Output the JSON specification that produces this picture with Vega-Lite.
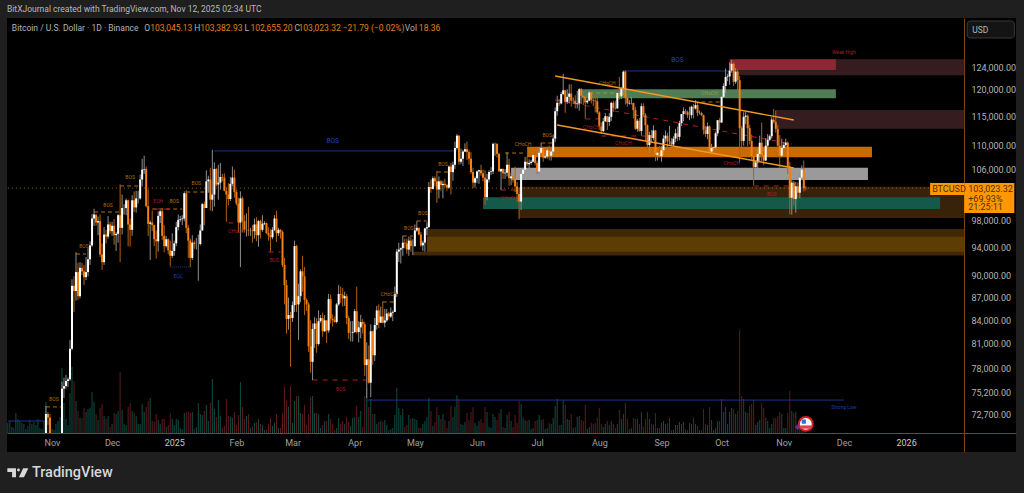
{"$schema":"https://vega.github.io/schema/vega-lite/v6.json","width":1009,"height":434,"autosize":"none","padding":{"left":7,"top":18,"right":8,"bottom":41},"background":"#1f1f1f","config":{"view":{"fill":"#000000","stroke":null},"font":"Roboto"},
"title":{"text":"BitXJournal created with TradingView.com, Nov 12, 2025 02:34 UTC","anchor":"start","frame":"group","offset":5,"fontSize":8.5,"fontWeight":"normal","color":"#b8b8b8"},
"datasets":{
"candles":[
{"d":"2024-10-10","v":10},{"d":"2024-10-11","v":12},{"d":"2024-10-12","v":6},{"d":"2024-10-13","v":5},{"d":"2024-10-14","v":20},{"d":"2024-10-15","v":14},{"d":"2024-10-16","v":12},{"d":"2024-10-17","v":10},{"d":"2024-10-18","v":9},{"d":"2024-10-19","v":4},{"d":"2024-10-20","v":7},{"d":"2024-10-21","v":13},{"d":"2024-10-22","v":9},{"d":"2024-10-23","v":11},{"d":"2024-10-24","v":8},{"d":"2024-10-25","v":14},{"d":"2024-10-26","v":5},{"d":"2024-10-27","v":4},{"d":"2024-10-28","v":12},
{"d":"2024-10-29","o":70600,"h":73600,"l":70600,"c":72700,"v":31},{"d":"2024-10-30","o":72700,"h":72900,"l":71500,"c":72300,"v":12},{"d":"2024-10-31","o":72300,"h":72700,"l":70600,"c":70600,"v":14},{"d":"2024-11-01","v":4},{"d":"2024-11-02","v":3},{"d":"2024-11-03","v":9},{"d":"2024-11-04","v":12},{"d":"2024-11-05","v":16},
{"d":"2024-11-06","o":70600,"h":76400,"l":70600,"c":75600,"v":65},{"d":"2024-11-07","o":75600,"h":76900,"l":74500,"c":75900,"v":30},{"d":"2024-11-08","o":75900,"h":77200,"l":75600,"c":76500,"v":14},{"d":"2024-11-09","o":76500,"h":76900,"l":75800,"c":76700,"v":8},{"d":"2024-11-10","o":76700,"h":81500,"l":76500,"c":80400,"v":40},{"d":"2024-11-11","o":80400,"h":89500,"l":80200,"c":88600,"v":66},{"d":"2024-11-12","o":88600,"h":89900,"l":85100,"c":87900,"v":52},{"d":"2024-11-13","o":87900,"h":93300,"l":86600,"c":90500,"v":32},{"d":"2024-11-14","o":90500,"h":91800,"l":86700,"c":87200,"v":22},{"d":"2024-11-15","o":87200,"h":91900,"l":86900,"c":91100,"v":15},{"d":"2024-11-16","o":91100,"h":91800,"l":90100,"c":90600,"v":15},{"d":"2024-11-17","o":90600,"h":91500,"l":88700,"c":89800,"v":25},{"d":"2024-11-18","o":89800,"h":92600,"l":89400,"c":90500,"v":21},{"d":"2024-11-19","o":90500,"h":93900,"l":89900,"c":92300,"v":24},{"d":"2024-11-20","o":92300,"h":94900,"l":91500,"c":94300,"v":25},{"d":"2024-11-21","o":94300,"h":99000,"l":94100,"c":98300,"v":41},{"d":"2024-11-22","o":98300,"h":99800,"l":97200,"c":98900,"v":31},{"d":"2024-11-23","o":98900,"h":98900,"l":97200,"c":97700,"v":19},{"d":"2024-11-24","o":97700,"h":98600,"l":95800,"c":97900,"v":13},{"d":"2024-11-25","o":97900,"h":98900,"l":92600,"c":93000,"v":25},{"d":"2024-11-26","o":93000,"h":94600,"l":90800,"c":91900,"v":29},{"d":"2024-11-27","o":91900,"h":97000,"l":91500,"c":95900,"v":17},{"d":"2024-11-28","o":95900,"h":96600,"l":94600,"c":95600,"v":14},{"d":"2024-11-29","o":95600,"h":98700,"l":95300,"c":97400,"v":17},{"d":"2024-11-30","o":97400,"h":97800,"l":96000,"c":96400,"v":6},
{"d":"2024-12-01","o":96400,"h":97800,"l":95700,"c":97200,"v":9},{"d":"2024-12-02","o":97200,"h":98200,"l":94400,"c":95800,"v":20},{"d":"2024-12-03","o":95800,"h":96300,"l":93500,"c":96000,"v":19},{"d":"2024-12-04","o":96000,"h":99000,"l":94700,"c":98800,"v":22},{"d":"2024-12-05","o":98800,"h":103600,"l":91900,"c":96900,"v":61},{"d":"2024-12-06","o":96900,"h":102000,"l":95900,"c":99900,"v":23},{"d":"2024-12-07","o":99900,"h":100500,"l":98900,"c":99900,"v":9},{"d":"2024-12-08","o":99900,"h":101400,"l":98800,"c":101100,"v":8},{"d":"2024-12-09","o":101100,"h":101200,"l":94200,"c":97400,"v":26},{"d":"2024-12-10","o":97400,"h":98300,"l":94100,"c":96600,"v":30},{"d":"2024-12-11","o":96600,"h":101900,"l":95700,"c":101100,"v":22},{"d":"2024-12-12","o":101100,"h":102500,"l":99300,"c":100000,"v":20},{"d":"2024-12-13","o":100000,"h":102600,"l":99200,"c":101400,"v":17},{"d":"2024-12-14","o":101400,"h":102600,"l":100600,"c":101400,"v":9},{"d":"2024-12-15","o":101400,"h":105200,"l":101200,"c":104400,"v":9},{"d":"2024-12-16","o":104400,"h":107800,"l":103300,"c":106000,"v":29},{"d":"2024-12-17","o":106000,"h":108300,"l":105300,"c":106100,"v":21},{"d":"2024-12-18","o":106100,"h":106500,"l":100000,"c":100200,"v":26},{"d":"2024-12-19","o":100200,"h":102800,"l":95700,"c":97500,"v":32},{"d":"2024-12-20","o":97500,"h":98000,"l":92200,"c":97700,"v":35},{"d":"2024-12-21","o":97700,"h":99500,"l":96400,"c":97300,"v":12},{"d":"2024-12-22","o":97300,"h":97400,"l":94200,"c":95200,"v":11},{"d":"2024-12-23","o":95200,"h":96500,"l":92400,"c":94900,"v":19},{"d":"2024-12-24","o":94900,"h":99400,"l":93400,"c":98700,"v":13},{"d":"2024-12-25","o":98700,"h":99600,"l":97600,"c":99400,"v":9},{"d":"2024-12-26","o":99400,"h":99900,"l":95100,"c":95700,"v":14},{"d":"2024-12-27","o":95700,"h":97300,"l":93300,"c":94200,"v":14},{"d":"2024-12-28","o":94200,"h":95700,"l":94000,"c":95200,"v":6},{"d":"2024-12-29","o":95200,"h":95300,"l":93000,"c":93600,"v":8},{"d":"2024-12-30","o":93600,"h":95000,"l":91300,"c":92800,"v":20},{"d":"2024-12-31","o":92800,"h":96100,"l":92500,"c":93500,"v":14},
{"d":"2025-01-01","o":93500,"h":95000,"l":92800,"c":94600,"v":8},{"d":"2025-01-02","o":94600,"h":97800,"l":94200,"c":97000,"v":14},{"d":"2025-01-03","o":97000,"h":98900,"l":96500,"c":98100,"v":13},{"d":"2025-01-04","o":98100,"h":98700,"l":97800,"c":98200,"v":5},{"d":"2025-01-05","o":98200,"h":98800,"l":97300,"c":98300,"v":4},{"d":"2025-01-06","o":98300,"h":102500,"l":97900,"c":102200,"v":20},{"d":"2025-01-07","o":102200,"h":102700,"l":96100,"c":96900,"v":21},{"d":"2025-01-08","o":96900,"h":97300,"l":92500,"c":95000,"v":21},{"d":"2025-01-09","o":95000,"h":95300,"l":91200,"c":92500,"v":20},{"d":"2025-01-10","o":92500,"h":95800,"l":92200,"c":94700,"v":21},{"d":"2025-01-11","o":94700,"h":95000,"l":93800,"c":94500,"v":4},{"d":"2025-01-12","o":94500,"h":95400,"l":93700,"c":94500,"v":6},{"d":"2025-01-13","o":94500,"h":95900,"l":89300,"c":94500,"v":30},{"d":"2025-01-14","o":94500,"h":97400,"l":94300,"c":96500,"v":19},{"d":"2025-01-15","o":96500,"h":100700,"l":96500,"c":100500,"v":18},{"d":"2025-01-16","o":100500,"h":100900,"l":97300,"c":99900,"v":22},{"d":"2025-01-17","o":99900,"h":105900,"l":99900,"c":104100,"v":28},{"d":"2025-01-18","o":104100,"h":105000,"l":102300,"c":104400,"v":12},{"d":"2025-01-19","o":104400,"h":106300,"l":99500,"c":101200,"v":30},{"d":"2025-01-20","o":101200,"h":109300,"l":99400,"c":102000,"v":54},{"d":"2025-01-21","o":102000,"h":107200,"l":100100,"c":106100,"v":24},{"d":"2025-01-22","o":106100,"h":106300,"l":103300,"c":103600,"v":16},{"d":"2025-01-23","o":103600,"h":106800,"l":101200,"c":103900,"v":33},{"d":"2025-01-24","o":103900,"h":107100,"l":102800,"c":104800,"v":17},{"d":"2025-01-25","o":104800,"h":105300,"l":104100,"c":104700,"v":5},{"d":"2025-01-26","o":104700,"h":105400,"l":102500,"c":102600,"v":7},{"d":"2025-01-27","o":102600,"h":103200,"l":97800,"c":102000,"v":34},{"d":"2025-01-28","o":102000,"h":103800,"l":100300,"c":101300,"v":17},{"d":"2025-01-29","o":101300,"h":104800,"l":101000,"c":103700,"v":16},{"d":"2025-01-30","o":103700,"h":106500,"l":103300,"c":104700,"v":15},{"d":"2025-01-31","o":104700,"h":106000,"l":101500,"c":102400,"v":21},
{"d":"2025-02-01","o":102400,"h":102800,"l":100300,"c":100600,"v":8},{"d":"2025-02-02","o":100600,"h":101500,"l":96200,"c":97700,"v":18},{"d":"2025-02-03","o":97700,"h":102500,"l":91200,"c":101400,"v":51},{"d":"2025-02-04","o":101400,"h":101700,"l":96200,"c":97900,"v":26},{"d":"2025-02-05","o":97900,"h":98800,"l":96200,"c":96600,"v":14},{"d":"2025-02-06","o":96600,"h":99100,"l":95600,"c":96600,"v":17},{"d":"2025-02-07","o":96600,"h":100100,"l":95700,"c":96500,"v":19},{"d":"2025-02-08","o":96500,"h":96900,"l":95700,"c":96500,"v":5},{"d":"2025-02-09","o":96500,"h":97300,"l":94700,"c":96400,"v":7},{"d":"2025-02-10","o":96400,"h":98300,"l":95300,"c":97400,"v":10},{"d":"2025-02-11","o":97400,"h":98500,"l":94900,"c":95800,"v":11},{"d":"2025-02-12","o":95800,"h":98100,"l":94100,"c":97900,"v":14},{"d":"2025-02-13","o":97900,"h":98100,"l":95300,"c":96600,"v":9},{"d":"2025-02-14","o":96600,"h":98800,"l":96300,"c":97500,"v":8},{"d":"2025-02-15","o":97500,"h":97900,"l":97300,"c":97600,"v":3},{"d":"2025-02-16","o":97600,"h":97700,"l":96000,"c":96100,"v":4},{"d":"2025-02-17","o":96100,"h":97000,"l":95000,"c":95800,"v":9},{"d":"2025-02-18","o":95800,"h":96700,"l":93400,"c":95500,"v":15},{"d":"2025-02-19","o":95500,"h":97000,"l":95200,"c":96600,"v":7},{"d":"2025-02-20","o":96600,"h":98800,"l":96400,"c":98300,"v":10},{"d":"2025-02-21","o":98300,"h":99500,"l":94800,"c":96100,"v":19},{"d":"2025-02-22","o":96100,"h":96900,"l":95700,"c":96600,"v":5},{"d":"2025-02-23","o":96600,"h":96700,"l":95300,"c":96300,"v":5},{"d":"2025-02-24","o":96300,"h":96500,"l":91200,"c":91500,"v":20},{"d":"2025-02-25","o":91500,"h":92500,"l":86100,"c":88700,"v":46},{"d":"2025-02-26","o":88700,"h":89400,"l":82300,"c":84200,"v":32},{"d":"2025-02-27","o":84200,"h":87000,"l":82800,"c":84700,"v":26},{"d":"2025-02-28","o":84700,"h":85100,"l":78200,"c":84300,"v":47},
{"d":"2025-03-01","o":84300,"h":86500,"l":83800,"c":86000,"v":10},{"d":"2025-03-02","o":86000,"h":95000,"l":85100,"c":94200,"v":32},{"d":"2025-03-03","o":94200,"h":94400,"l":85100,"c":86100,"v":37},{"d":"2025-03-04","o":86100,"h":88900,"l":81500,"c":87200,"v":37},{"d":"2025-03-05","o":87200,"h":90900,"l":86400,"c":90600,"v":20},{"d":"2025-03-06","o":90600,"h":92800,"l":87800,"c":89900,"v":19},{"d":"2025-03-07","o":89900,"h":91200,"l":84700,"c":86700,"v":28},{"d":"2025-03-08","o":86700,"h":86900,"l":85200,"c":86100,"v":8},{"d":"2025-03-09","o":86100,"h":86400,"l":80000,"c":80700,"v":19},{"d":"2025-03-10","o":80700,"h":84000,"l":77500,"c":78800,"v":36},{"d":"2025-03-11","o":78800,"h":83600,"l":76600,"c":82900,"v":37},{"d":"2025-03-12","o":82900,"h":84400,"l":80500,"c":83600,"v":20},{"d":"2025-03-13","o":83600,"h":84300,"l":79900,"c":81000,"v":20},{"d":"2025-03-14","o":81000,"h":85300,"l":80800,"c":83900,"v":19},{"d":"2025-03-15","o":83900,"h":84700,"l":83700,"c":84300,"v":5},{"d":"2025-03-16","o":84300,"h":85000,"l":81900,"c":82600,"v":8},{"d":"2025-03-17","o":82600,"h":84700,"l":82500,"c":84000,"v":12},{"d":"2025-03-18","o":84000,"h":84000,"l":81100,"c":82700,"v":12},{"d":"2025-03-19","o":82700,"h":87500,"l":82400,"c":86800,"v":19},{"d":"2025-03-20","o":86800,"h":87400,"l":83600,"c":84200,"v":14},{"d":"2025-03-21","o":84200,"h":84800,"l":83200,"c":84000,"v":9},{"d":"2025-03-22","o":84000,"h":84500,"l":83700,"c":83800,"v":3},{"d":"2025-03-23","o":83800,"h":86300,"l":83600,"c":86100,"v":5},{"d":"2025-03-24","o":86100,"h":88700,"l":85900,"c":87500,"v":15},{"d":"2025-03-25","o":87500,"h":88500,"l":86300,"c":87400,"v":9},{"d":"2025-03-26","o":87400,"h":88300,"l":85800,"c":86900,"v":12},{"d":"2025-03-27","o":86900,"h":87800,"l":85900,"c":87200,"v":9},{"d":"2025-03-28","o":87200,"h":87500,"l":83500,"c":84300,"v":16},{"d":"2025-03-29","o":84300,"h":84600,"l":81600,"c":82400,"v":11},{"d":"2025-03-30","o":82400,"h":83900,"l":81300,"c":82400,"v":7},{"d":"2025-03-31","o":82400,"h":83900,"l":81300,"c":82500,"v":15},
{"d":"2025-04-01","o":82500,"h":85500,"l":82400,"c":85200,"v":16},{"d":"2025-04-02","o":85200,"h":88500,"l":82300,"c":82500,"v":27},{"d":"2025-04-03","o":82500,"h":83900,"l":81200,"c":83100,"v":16},{"d":"2025-04-04","o":83100,"h":84700,"l":81700,"c":83800,"v":22},{"d":"2025-04-05","o":83800,"h":84200,"l":82300,"c":83500,"v":6},{"d":"2025-04-06","o":83500,"h":83800,"l":77100,"c":78400,"v":37},{"d":"2025-04-07","o":78400,"h":81200,"l":74500,"c":79100,"v":45},{"d":"2025-04-08","o":79100,"h":80800,"l":76200,"c":76300,"v":26},{"d":"2025-04-09","o":76300,"h":83500,"l":74600,"c":82600,"v":34},{"d":"2025-04-10","o":82600,"h":82700,"l":78400,"c":79600,"v":19},{"d":"2025-04-11","o":79600,"h":84300,"l":78900,"c":83400,"v":19},{"d":"2025-04-12","o":83400,"h":85900,"l":82800,"c":85300,"v":9},{"d":"2025-04-13","o":85300,"h":86100,"l":83000,"c":83700,"v":11},{"d":"2025-04-14","o":83700,"h":85800,"l":83700,"c":84500,"v":12},{"d":"2025-04-15","o":84500,"h":86500,"l":83600,"c":83700,"v":11},{"d":"2025-04-16","o":83700,"h":85500,"l":83100,"c":84000,"v":13},{"d":"2025-04-17","o":84000,"h":85500,"l":83800,"c":84900,"v":8},{"d":"2025-04-18","o":84900,"h":85100,"l":84100,"c":84500,"v":3},{"d":"2025-04-19","o":84500,"h":85700,"l":84300,"c":85000,"v":4},{"d":"2025-04-20","o":85000,"h":85300,"l":83900,"c":85100,"v":5},{"d":"2025-04-21","o":85100,"h":88500,"l":85100,"c":87500,"v":18},{"d":"2025-04-22","o":87500,"h":93800,"l":87100,"c":93400,"v":45},{"d":"2025-04-23","o":93400,"h":94700,"l":91900,"c":93700,"v":25},{"d":"2025-04-24","o":93700,"h":94000,"l":91700,"c":93900,"v":18},{"d":"2025-04-25","o":93900,"h":95700,"l":92800,"c":94700,"v":24},{"d":"2025-04-26","o":94700,"h":95300,"l":93900,"c":94600,"v":6},{"d":"2025-04-27","o":94600,"h":95300,"l":93100,"c":93700,"v":8},{"d":"2025-04-28","o":93700,"h":95600,"l":92800,"c":95000,"v":18},{"d":"2025-04-29","o":95000,"h":95500,"l":93400,"c":94200,"v":14},{"d":"2025-04-30","o":94200,"h":95200,"l":92900,"c":94200,"v":15},
{"d":"2025-05-01","o":94200,"h":97400,"l":94100,"c":96500,"v":14},{"d":"2025-05-02","o":96500,"h":97900,"l":96300,"c":96900,"v":13},{"d":"2025-05-03","o":96900,"h":96900,"l":95800,"c":95900,"v":5},{"d":"2025-05-04","o":95900,"h":96300,"l":94100,"c":94300,"v":5},{"d":"2025-05-05","o":94300,"h":95000,"l":93500,"c":94700,"v":9},{"d":"2025-05-06","o":94700,"h":96900,"l":93400,"c":96800,"v":12},{"d":"2025-05-07","o":96800,"h":97700,"l":95800,"c":97000,"v":16},{"d":"2025-05-08","o":97000,"h":104000,"l":96900,"c":103200,"v":35},{"d":"2025-05-09","o":103200,"h":104400,"l":102300,"c":102900,"v":22},{"d":"2025-05-10","o":102900,"h":104900,"l":102800,"c":104600,"v":7},{"d":"2025-05-11","o":104600,"h":104900,"l":103300,"c":104100,"v":11},{"d":"2025-05-12","o":104100,"h":105800,"l":100700,"c":102800,"v":26},{"d":"2025-05-13","o":102800,"h":104900,"l":101400,"c":104100,"v":18},{"d":"2025-05-14","o":104100,"h":104300,"l":102600,"c":103500,"v":14},{"d":"2025-05-15","o":103500,"h":104200,"l":101400,"c":103700,"v":19},{"d":"2025-05-16","o":103700,"h":104500,"l":103100,"c":103500,"v":13},{"d":"2025-05-17","o":103500,"h":103700,"l":102600,"c":103100,"v":5},{"d":"2025-05-18","o":103100,"h":106700,"l":102900,"c":106500,"v":12},{"d":"2025-05-19","o":106500,"h":107100,"l":102000,"c":105600,"v":27},{"d":"2025-05-20","o":105600,"h":107300,"l":104200,"c":106800,"v":16},{"d":"2025-05-21","o":106800,"h":110700,"l":106100,"c":109600,"v":26},{"d":"2025-05-22","o":109600,"h":112000,"l":109300,"c":111700,"v":38},{"d":"2025-05-23","o":111700,"h":111800,"l":106800,"c":107300,"v":34},{"d":"2025-05-24","o":107300,"h":109500,"l":106900,"c":107800,"v":9},{"d":"2025-05-25","o":107800,"h":109300,"l":106600,"c":109000,"v":8},{"d":"2025-05-26","o":109000,"h":110400,"l":108900,"c":109400,"v":11},{"d":"2025-05-27","o":109400,"h":110700,"l":107600,"c":108900,"v":20},{"d":"2025-05-28","o":108900,"h":109300,"l":106800,"c":107800,"v":13},{"d":"2025-05-29","o":107800,"h":108900,"l":105300,"c":105600,"v":21},{"d":"2025-05-30","o":105600,"h":106300,"l":103000,"c":103900,"v":26},{"d":"2025-05-31","o":103900,"h":104900,"l":103100,"c":104600,"v":10},
{"d":"2025-06-01","o":104600,"h":105900,"l":103800,"c":105700,"v":7},{"d":"2025-06-02","o":105700,"h":105900,"l":103700,"c":105900,"v":12},{"d":"2025-06-03","o":105900,"h":106800,"l":105000,"c":105400,"v":14},{"d":"2025-06-04","o":105400,"h":106000,"l":104100,"c":104700,"v":10},{"d":"2025-06-05","o":104700,"h":105900,"l":100400,"c":101600,"v":26},{"d":"2025-06-06","o":101600,"h":105300,"l":101100,"c":104400,"v":21},{"d":"2025-06-07","o":104400,"h":105900,"l":103900,"c":105600,"v":6},{"d":"2025-06-08","o":105600,"h":106400,"l":105100,"c":105700,"v":5},{"d":"2025-06-09","o":105700,"h":110500,"l":105300,"c":110300,"v":19},{"d":"2025-06-10","o":110300,"h":110500,"l":108300,"c":110300,"v":16},{"d":"2025-06-11","o":110300,"h":110400,"l":108000,"c":108600,"v":13},{"d":"2025-06-12","o":108600,"h":108800,"l":105700,"c":105700,"v":20},{"d":"2025-06-13","o":105700,"h":106200,"l":102700,"c":106100,"v":24},{"d":"2025-06-14","o":106100,"h":106200,"l":104500,"c":105400,"v":6},{"d":"2025-06-15","o":105400,"h":106100,"l":104500,"c":105500,"v":5},{"d":"2025-06-16","o":105500,"h":108900,"l":104900,"c":106800,"v":18},{"d":"2025-06-17","o":106800,"h":107800,"l":103400,"c":104600,"v":21},{"d":"2025-06-18","o":104600,"h":105500,"l":103500,"c":104900,"v":12},{"d":"2025-06-19","o":104900,"h":105000,"l":103900,"c":104600,"v":6},{"d":"2025-06-20","o":104600,"h":106500,"l":102400,"c":103300,"v":18},{"d":"2025-06-21","o":103300,"h":104000,"l":100900,"c":102100,"v":10},{"d":"2025-06-22","o":102100,"h":103100,"l":98200,"c":100900,"v":32},{"d":"2025-06-23","o":100900,"h":106100,"l":99600,"c":105300,"v":29},{"d":"2025-06-24","o":105300,"h":106300,"l":104600,"c":106000,"v":15},{"d":"2025-06-25","o":106000,"h":108100,"l":105800,"c":107300,"v":13},{"d":"2025-06-26","o":107300,"h":108200,"l":106600,"c":106900,"v":12},{"d":"2025-06-27","o":106900,"h":107700,"l":106100,"c":107100,"v":13},{"d":"2025-06-28","o":107100,"h":107600,"l":106800,"c":107300,"v":4},{"d":"2025-06-29","o":107300,"h":108500,"l":107200,"c":108400,"v":5},{"d":"2025-06-30","o":108400,"h":108800,"l":106700,"c":107100,"v":12},
{"d":"2025-07-01","o":107100,"h":107500,"l":105300,"c":105700,"v":13},{"d":"2025-07-02","o":105700,"h":109700,"l":105100,"c":108800,"v":18},{"d":"2025-07-03","o":108800,"h":110500,"l":108600,"c":109600,"v":13},{"d":"2025-07-04","o":109600,"h":109800,"l":107300,"c":108000,"v":14},{"d":"2025-07-05","o":108000,"h":108500,"l":107800,"c":108200,"v":4},{"d":"2025-07-06","o":108200,"h":109700,"l":107800,"c":109200,"v":5},{"d":"2025-07-07","o":109200,"h":110000,"l":107500,"c":108300,"v":10},{"d":"2025-07-08","o":108300,"h":109200,"l":107500,"c":109000,"v":9},{"d":"2025-07-09","o":109000,"h":111900,"l":108400,"c":111200,"v":15},{"d":"2025-07-10","o":111200,"h":116700,"l":110600,"c":116000,"v":27},{"d":"2025-07-11","o":116000,"h":118800,"l":115200,"c":117500,"v":34},{"d":"2025-07-12","o":117500,"h":118200,"l":116900,"c":117400,"v":8},{"d":"2025-07-13","o":117400,"h":119500,"l":117200,"c":119100,"v":8},{"d":"2025-07-14","o":119100,"h":122900,"l":118900,"c":119800,"v":33},{"d":"2025-07-15","o":119800,"h":119900,"l":115700,"c":117700,"v":28},{"d":"2025-07-16","o":117700,"h":120000,"l":117300,"c":118600,"v":14},{"d":"2025-07-17","o":118600,"h":120900,"l":117400,"c":119200,"v":13},{"d":"2025-07-18","o":119200,"h":120900,"l":116800,"c":117900,"v":19},{"d":"2025-07-19","o":117900,"h":118500,"l":117300,"c":117900,"v":5},{"d":"2025-07-20","o":117900,"h":118900,"l":116500,"c":117300,"v":6},{"d":"2025-07-21","o":117300,"h":119700,"l":116500,"c":117400,"v":16},{"d":"2025-07-22","o":117400,"h":120200,"l":116100,"c":120000,"v":17},{"d":"2025-07-23","o":120000,"h":120200,"l":117300,"c":118800,"v":13},{"d":"2025-07-24","o":118800,"h":119500,"l":117100,"c":118600,"v":12},{"d":"2025-07-25","o":118600,"h":118900,"l":114700,"c":117600,"v":28},{"d":"2025-07-26","o":117600,"h":118300,"l":117300,"c":117900,"v":4},{"d":"2025-07-27","o":117900,"h":119800,"l":117800,"c":119400,"v":6},{"d":"2025-07-28","o":119400,"h":119800,"l":117400,"c":118000,"v":10},{"d":"2025-07-29","o":118000,"h":119300,"l":116900,"c":117900,"v":9},{"d":"2025-07-30","o":117900,"h":118800,"l":115800,"c":117800,"v":10},{"d":"2025-07-31","o":117800,"h":118900,"l":115500,"c":115800,"v":15},
{"d":"2025-08-01","o":115800,"h":116000,"l":112700,"c":113300,"v":25},{"d":"2025-08-02","o":113300,"h":114000,"l":112000,"c":112500,"v":9},{"d":"2025-08-03","o":112500,"h":114800,"l":112300,"c":114200,"v":6},{"d":"2025-08-04","o":114200,"h":115700,"l":114100,"c":115100,"v":9},{"d":"2025-08-05","o":115100,"h":115100,"l":112700,"c":114100,"v":12},{"d":"2025-08-06","o":114100,"h":115700,"l":113400,"c":115000,"v":8},{"d":"2025-08-07","o":115000,"h":117700,"l":114300,"c":117500,"v":12},{"d":"2025-08-08","o":117500,"h":117900,"l":115900,"c":116600,"v":9},{"d":"2025-08-09","o":116600,"h":117900,"l":116300,"c":116500,"v":5},{"d":"2025-08-10","o":116500,"h":119300,"l":116500,"c":119300,"v":9},{"d":"2025-08-11","o":119300,"h":122300,"l":118100,"c":118700,"v":23},{"d":"2025-08-12","o":118700,"h":120300,"l":118200,"c":120200,"v":14},{"d":"2025-08-13","o":120200,"h":123500,"l":118900,"c":123300,"v":19},{"d":"2025-08-14","o":123300,"h":123500,"l":117200,"c":118400,"v":30},{"d":"2025-08-15","o":118400,"h":119200,"l":116800,"c":117400,"v":14},{"d":"2025-08-16","o":117400,"h":118000,"l":117200,"c":117500,"v":4},{"d":"2025-08-17","o":117500,"h":118600,"l":117200,"c":117500,"v":5},{"d":"2025-08-18","o":117500,"h":117500,"l":114700,"c":116200,"v":15},{"d":"2025-08-19","o":116200,"h":116800,"l":112700,"c":112900,"v":14},{"d":"2025-08-20","o":112900,"h":114600,"l":112400,"c":114300,"v":14},{"d":"2025-08-21","o":114300,"h":114800,"l":112400,"c":112500,"v":9},{"d":"2025-08-22","o":112500,"h":117400,"l":111700,"c":116900,"v":21},{"d":"2025-08-23","o":116900,"h":117400,"l":114900,"c":115400,"v":6},{"d":"2025-08-24","o":115400,"h":115700,"l":110800,"c":113500,"v":14},{"d":"2025-08-25","o":113500,"h":113700,"l":109300,"c":110100,"v":21},{"d":"2025-08-26","o":110100,"h":112400,"l":108700,"c":111800,"v":14},{"d":"2025-08-27","o":111800,"h":112700,"l":110400,"c":111300,"v":9},{"d":"2025-08-28","o":111300,"h":113500,"l":110900,"c":112600,"v":8},{"d":"2025-08-29","o":112600,"h":112700,"l":107400,"c":108400,"v":20},{"d":"2025-08-30","o":108400,"h":108900,"l":107500,"c":108800,"v":5},{"d":"2025-08-31","o":108800,"h":109900,"l":108000,"c":108200,"v":5},
{"d":"2025-09-01","o":108200,"h":109900,"l":107300,"c":109200,"v":10},{"d":"2025-09-02","o":109200,"h":111800,"l":108400,"c":111200,"v":12},{"d":"2025-09-03","o":111200,"h":112600,"l":110500,"c":111700,"v":9},{"d":"2025-09-04","o":111700,"h":112200,"l":109300,"c":110700,"v":10},{"d":"2025-09-05","o":110700,"h":113400,"l":110200,"c":110700,"v":15},{"d":"2025-09-06","o":110700,"h":111300,"l":109900,"c":110200,"v":3},{"d":"2025-09-07","o":110200,"h":111600,"l":110000,"c":111200,"v":3},{"d":"2025-09-08","o":111200,"h":112900,"l":110600,"c":112100,"v":8},{"d":"2025-09-09","o":112100,"h":113300,"l":110800,"c":111500,"v":8},{"d":"2025-09-10","o":111500,"h":114300,"l":110900,"c":113900,"v":11},{"d":"2025-09-11","o":113900,"h":115500,"l":113400,"c":115500,"v":9},{"d":"2025-09-12","o":115500,"h":116700,"l":114200,"c":116000,"v":11},{"d":"2025-09-13","o":116000,"h":116400,"l":115400,"c":115900,"v":4},{"d":"2025-09-14","o":115900,"h":116100,"l":114800,"c":115300,"v":3},{"d":"2025-09-15","o":115300,"h":116800,"l":114400,"c":115300,"v":10},{"d":"2025-09-16","o":115300,"h":117000,"l":114700,"c":116800,"v":9},{"d":"2025-09-17","o":116800,"h":117300,"l":114700,"c":116500,"v":15},{"d":"2025-09-18","o":116500,"h":118000,"l":116300,"c":117100,"v":9},{"d":"2025-09-19","o":117100,"h":117500,"l":115100,"c":115700,"v":7},{"d":"2025-09-20","o":115700,"h":116100,"l":115400,"c":115700,"v":3},{"d":"2025-09-21","o":115700,"h":115900,"l":115100,"c":115300,"v":3},{"d":"2025-09-22","o":115300,"h":115400,"l":111900,"c":112700,"v":24},{"d":"2025-09-23","o":112700,"h":113400,"l":111500,"c":112000,"v":9},{"d":"2025-09-24","o":112000,"h":114000,"l":111100,"c":113300,"v":8},{"d":"2025-09-25","o":113300,"h":113500,"l":108600,"c":109000,"v":26},{"d":"2025-09-26","o":109000,"h":110300,"l":108600,"c":109600,"v":13},{"d":"2025-09-27","o":109600,"h":109800,"l":109100,"c":109700,"v":3},{"d":"2025-09-28","o":109700,"h":112400,"l":109300,"c":112100,"v":5},{"d":"2025-09-29","o":112100,"h":114400,"l":111600,"c":114400,"v":12},{"d":"2025-09-30","o":114400,"h":114800,"l":112700,"c":114000,"v":12},
{"d":"2025-10-01","o":114000,"h":118700,"l":113900,"c":118600,"v":34},{"d":"2025-10-02","o":118600,"h":121100,"l":118400,"c":120600,"v":21},{"d":"2025-10-03","o":120600,"h":123900,"l":119300,"c":122300,"v":26},{"d":"2025-10-04","o":122300,"h":122900,"l":121500,"c":122400,"v":9},{"d":"2025-10-05","o":122400,"h":125100,"l":120800,"c":123500,"v":21},{"d":"2025-10-06","o":123500,"h":125600,"l":123100,"c":124800,"v":25},{"d":"2025-10-07","o":124800,"h":125100,"l":120600,"c":121400,"v":24},{"d":"2025-10-08","o":121400,"h":124000,"l":121000,"c":123300,"v":19},{"d":"2025-10-09","o":123300,"h":123700,"l":119800,"c":121700,"v":22},{"d":"2025-10-10","o":121700,"h":122500,"l":107200,"c":113000,"v":103},{"d":"2025-10-11","o":113000,"h":113400,"l":109800,"c":110800,"v":37},{"d":"2025-10-12","o":110800,"h":115800,"l":110000,"c":115000,"v":34},{"d":"2025-10-13","o":115000,"h":115900,"l":113700,"c":115200,"v":21},{"d":"2025-10-14","o":115200,"h":115400,"l":109900,"c":113000,"v":20},{"d":"2025-10-15","o":113000,"h":113600,"l":110200,"c":110800,"v":27},{"d":"2025-10-16","o":110800,"h":111900,"l":107500,"c":108200,"v":29},{"d":"2025-10-17","o":108200,"h":109200,"l":103500,"c":106400,"v":33},{"d":"2025-10-18","o":106400,"h":107500,"l":106300,"c":107200,"v":8},{"d":"2025-10-19","o":107200,"h":109400,"l":106100,"c":108600,"v":11},{"d":"2025-10-20","o":108600,"h":111700,"l":107400,"c":110500,"v":13},{"d":"2025-10-21","o":110500,"h":114000,"l":107400,"c":108400,"v":30},{"d":"2025-10-22","o":108400,"h":109000,"l":106700,"c":107500,"v":25},{"d":"2025-10-23","o":107500,"h":111300,"l":107400,"c":110000,"v":15},{"d":"2025-10-24","o":110000,"h":112000,"l":109700,"c":111000,"v":12},{"d":"2025-10-25","o":111000,"h":111900,"l":110800,"c":111600,"v":5},{"d":"2025-10-26","o":111600,"h":115000,"l":111200,"c":114500,"v":9},{"d":"2025-10-27","o":114500,"h":116400,"l":113800,"c":114100,"v":15},{"d":"2025-10-28","o":114100,"h":116100,"l":112200,"c":112900,"v":15},{"d":"2025-10-29","o":112900,"h":113600,"l":109700,"c":110000,"v":17},{"d":"2025-10-30","o":110000,"h":111800,"l":106300,"c":108300,"v":21},{"d":"2025-10-31","o":108300,"h":111200,"l":108000,"c":109600,"v":19},
{"d":"2025-11-01","o":109600,"h":110600,"l":109400,"c":110100,"v":5},{"d":"2025-11-02","o":110100,"h":111200,"l":109800,"c":110500,"v":5},{"d":"2025-11-03","o":110500,"h":110700,"l":105300,"c":106500,"v":20},{"d":"2025-11-04","o":106500,"h":107300,"l":98900,"c":101500,"v":42},{"d":"2025-11-05","o":101500,"h":104500,"l":98900,"c":103900,"v":22},{"d":"2025-11-06","o":103900,"h":104200,"l":100300,"c":101300,"v":20},{"d":"2025-11-07","o":101300,"h":104000,"l":99200,"c":103300,"v":21},{"d":"2025-11-08","o":103300,"h":103900,"l":101500,"c":102300,"v":6},{"d":"2025-11-09","o":102300,"h":105400,"l":101400,"c":104700,"v":9},{"d":"2025-11-10","o":104700,"h":106700,"l":104300,"c":106000,"v":13},{"d":"2025-11-11","o":106000,"h":107500,"l":102500,"c":103000,"v":16},{"d":"2025-11-12","o":103045,"h":103383,"l":102655,"c":103023,"v":2}
],
"zones":[
{"d":"2025-10-08","d2":"2026-01-30","p":125676,"p2":122611,"zone":"maroon"},
{"d":"2025-10-28","d2":"2026-01-30","p":116218,"p2":112913,"zone":"maroon"},
{"d":"2025-10-05","d2":"2025-11-27","p":125676,"p2":123618,"zone":"red"},
{"d":"2025-07-23","d2":"2025-11-27","p":119991,"p2":118336,"zone":"green"},
{"d":"2025-06-22","d2":"2026-01-30","p":103246,"p2":98374,"zone":"brown"},
{"d":"2025-05-07","d2":"2026-01-30","p":96714,"p2":92861,"zone":"brown2"},
{"d":"2025-04-30","d2":"2025-05-07","p":93393,"p2":92861,"zone":"brown2"},
{"d":"2025-05-07","d2":"2026-01-30","p":95571,"p2":93393,"zone":"amber"},
{"d":"2025-06-26","d2":"2025-12-15","p":109820,"p2":108037,"zone":"orange"},
{"d":"2025-06-18","d2":"2025-12-13","p":106318,"p2":104319,"zone":"gray"},
{"d":"2025-06-04","d2":"2026-01-18","p":101566,"p2":99748,"zone":"teal"}
],
"segments":[
{"d":"2024-10-10","d2":"2026-01-30","p":103023,"p2":103023,"kind":"last"},
{"d":"2025-01-21","d2":"2025-05-22","p":109100,"p2":109100,"kind":"blue"},
{"d":"2025-08-13","d2":"2025-10-05","p":123430,"p2":123430,"kind":"blue"},
{"d":"2025-04-07","d2":"2025-12-01","p":74280,"p2":74280,"kind":"blue"},
{"d":"2024-10-10","d2":"2024-10-29","p":71920,"p2":71920,"kind":"blue"},
{"d":"2024-12-30","d2":"2025-01-10","p":91210,"p2":91210,"kind":"blue dotted"},
{"d":"2024-10-29","d2":"2024-11-06","p":73500,"p2":73500,"kind":"orange"},
{"d":"2024-11-13","d2":"2024-11-18","p":93060,"p2":93060,"kind":"orange"},
{"d":"2024-11-22","d2":"2024-12-05","p":99290,"p2":99290,"kind":"orange"},
{"d":"2024-12-05","d2":"2024-12-14","p":103360,"p2":103360,"kind":"orange"},
{"d":"2024-12-21","d2":"2025-01-05","p":99750,"p2":99750,"kind":"orange"},
{"d":"2025-01-07","d2":"2025-01-17","p":102400,"p2":102400,"kind":"orange"},
{"d":"2025-04-15","d2":"2025-04-21","p":86420,"p2":86420,"kind":"orange"},
{"d":"2025-04-25","d2":"2025-04-30","p":95680,"p2":95680,"kind":"orange"},
{"d":"2025-05-02","d2":"2025-05-07","p":97930,"p2":97930,"kind":"orange"},
{"d":"2025-05-12","d2":"2025-05-18","p":105610,"p2":105610,"kind":"orange"},
{"d":"2025-06-15","d2":"2025-06-25","p":108750,"p2":108750,"kind":"orange"},
{"d":"2025-07-03","d2":"2025-07-09","p":110450,"p2":110450,"kind":"orange"},
{"d":"2025-09-21","d2":"2025-09-30","p":117660,"p2":117660,"kind":"orange"},
{"d":"2025-07-27","d2":"2025-08-12","p":119300,"p2":119300,"kind":"olive"},
{"d":"2024-12-22","d2":"2024-12-31","p":99750,"p2":99750,"kind":"red"},
{"d":"2025-01-28","d2":"2025-02-03","p":97630,"p2":97630,"kind":"red"},
{"d":"2025-02-17","d2":"2025-02-23","p":93350,"p2":93350,"kind":"red"},
{"d":"2025-03-11","d2":"2025-04-07","p":76620,"p2":76620,"kind":"red"},
{"d":"2025-06-13","d2":"2025-06-20","p":102720,"p2":102720,"kind":"red"},
{"d":"2025-07-25","d2":"2025-08-01","p":114620,"p2":114620,"kind":"red"},
{"d":"2025-08-02","d2":"2025-08-24","p":111650,"p2":111650,"kind":"red"},
{"d":"2025-10-17","d2":"2025-11-04","p":103360,"p2":103360,"kind":"red"},
{"d":"2025-07-10","d2":"2025-11-05","p":118030,"p2":110280,"kind":"red"}
],
"channel":[
{"d":"2025-07-10","d2":"2025-11-06","p":122470,"p2":114440},
{"d":"2025-07-11","d2":"2025-11-06","p":113560,"p2":106270}
],
"labels":[
{"d":"2024-11-02","p":74400,"label":"BOS","kind":"orange"},{"d":"2024-11-17","p":94210,"label":"BOS","kind":"orange"},{"d":"2024-11-29","p":100360,"label":"BOS","kind":"orange"},{"d":"2024-12-10","p":104800,"label":"BOS","kind":"orange"},{"d":"2025-01-01","p":101000,"label":"BOS","kind":"orange"},{"d":"2024-12-24","p":101000,"label":"EQH","kind":"red"},{"d":"2025-01-12","p":103840,"label":"BOS","kind":"orange"},{"d":"2025-01-03","p":89950,"label":"EQL","kind":"blue"},{"d":"2025-02-01","p":96420,"label":"CHoCH","kind":"red"},{"d":"2025-02-20","p":92200,"label":"BOS","kind":"red"},{"d":"2025-03-25","p":75560,"label":"BOS","kind":"red"},{"d":"2025-04-18","p":87490,"label":"CHoCH","kind":"orange"},{"d":"2025-04-28","p":96870,"label":"BOS","kind":"orange"},{"d":"2025-05-05","p":99140,"label":"BOS","kind":"orange"},{"d":"2025-05-15","p":106920,"label":"BOS","kind":"orange"},{"d":"2025-06-17","p":101460,"label":"CHoCH","kind":"red"},{"d":"2025-06-24","p":110280,"label":"CHoCH","kind":"orange"},{"d":"2025-07-06","p":111820,"label":"BOS","kind":"orange"},{"d":"2025-08-05","p":121130,"label":"CHoCH","kind":"orange"},{"d":"2025-09-25","p":119300,"label":"CHoCH","kind":"olive"},{"d":"2025-07-28","p":113210,"label":"CHoCH","kind":"red"},{"d":"2025-08-13","p":110450,"label":"CHoCH","kind":"red"},{"d":"2025-10-06","p":107090,"label":"CHoCH","kind":"red"},{"d":"2025-10-26","p":102090,"label":"BOS","kind":"red"},{"d":"2025-12-01","p":127100,"label":"Weak High","kind":"red"},{"d":"2025-12-01","p":73500,"label":"Strong Low","kind":"blue"}
],
"header":[
{"d":"2024-10-12","p":131900,"label":"Bitcoin / U.S. Dollar · 1D · Binance","kind":"name"},{"d":"2024-12-17","p":131900,"label":"O","kind":"name"},{"d":"2024-12-20","p":131900,"label":"103,045.13","kind":"value"},{"d":"2025-01-11","p":131900,"label":"H","kind":"name"},{"d":"2025-01-14","p":131900,"label":"103,382.93","kind":"value"},{"d":"2025-02-05","p":131900,"label":"L","kind":"name"},{"d":"2025-02-08","p":131900,"label":"102,655.20","kind":"value"},{"d":"2025-03-02","p":131900,"label":"C","kind":"name"},{"d":"2025-03-04","p":131900,"label":"103,023.32","kind":"value"},{"d":"2025-03-26","p":131900,"label":"−21.79 (−0.02%)","kind":"value"},{"d":"2025-04-26","p":131900,"label":"Vol","kind":"name"},{"d":"2025-05-03","p":131900,"label":"18.36","kind":"value"},{"d":"2026-02-03","p":131500,"label":"USD","kind":"name"}
],
"boxes":[
{"d":"2026-01-13","d2":"2026-01-30","p":103840,"p2":101930},
{"d":"2026-01-30","d2":"2026-02-24","p":103840,"p2":99140}
],
"tags":[
{"d":"2026-01-14","p":102880,"label":"BTCUSD"},{"d":"2026-02-01","p":102880,"label":"103,023.32"},{"d":"2026-02-01","p":101380,"label":"+69.93%"},{"d":"2026-02-01","p":100050,"label":"21:25:11"}
]
},
"encoding":{"x":{"field":"d","type":"temporal","scale":{"type":"utc","padding":0,"domain":[{"year":2024,"month":10,"date":9,"hours":14,"utc":true},{"year":2026,"month":2,"date":24,"hours":20,"utc":true}]},"axis":{"title":null,"orient":"bottom","offset":-19,"grid":false,"ticks":false,"domainColor":"#7a4a12","domainWidth":1,"labelColor":{"condition":{"test":"utcmonth(datum.value)==0","value":"#c8c8c8"},"value":"#a0a0a0"},"labelFontSize":9,"labelPadding":5,"labelFlush":false,"values":[{"year":2024,"month":11,"date":1,"utc":true},{"year":2024,"month":12,"date":1,"utc":true},{"year":2025,"month":1,"date":1,"utc":true},{"year":2025,"month":2,"date":1,"utc":true},{"year":2025,"month":3,"date":1,"utc":true},{"year":2025,"month":4,"date":1,"utc":true},{"year":2025,"month":5,"date":1,"utc":true},{"year":2025,"month":6,"date":1,"utc":true},{"year":2025,"month":7,"date":1,"utc":true},{"year":2025,"month":8,"date":1,"utc":true},{"year":2025,"month":9,"date":1,"utc":true},{"year":2025,"month":10,"date":1,"utc":true},{"year":2025,"month":11,"date":1,"utc":true},{"year":2025,"month":12,"date":1,"utc":true},{"year":2026,"month":1,"date":1,"utc":true}],"labelExpr":"utcmonth(datum.value)==0?utcyear(datum.value):utcFormat(datum.value,'%b')"}}},
"resolve":{"scale":{"y":"independent","color":"independent"}},
"layer":[
{"data":{"name":"candles"},"mark":{"type":"bar","size":1},"encoding":{"y":{"field":"v","type":"quantitative","stack":null,"scale":{"domain":[-19,415]},"axis":null},"color":{"condition":{"test":"datum.c<datum.o","value":"#5e1c1e"},"value":"#0f4f46"}}},
{"data":{"name":"zones"},"mark":{"type":"rect"},"encoding":{"x2":{"field":"d2"},"y":{"field":"p","type":"quantitative","scale":{"type":"log","domain":[68560,133946]},"axis":{"title":null,"orient":"right","offset":-52,"grid":false,"ticks":false,"domainColor":"#7a4a12","domainWidth":1,"labelColor":"#b4b4b4","labelFontSize":9,"labelPadding":7,"values":[72700,75200,78000,81000,84000,87000,90000,94000,98000,106000,110000,115000,120000,124000],"format":",.2f"}},"y2":{"field":"p2"},"color":{"field":"zone","type":"nominal","legend":null,"scale":{"domain":["maroon","red","green","brown","brown2","amber","orange","gray","teal"],"range":["#351c1f","#8b2833","#4f7d54","#38230a","#3e2808","#5e3c06","#c96b00","#9a9a9a","#14594a"]}}}},
{"data":{"name":"segments"},"mark":{"type":"rule","strokeWidth":1},"encoding":{"x2":{"field":"d2"},"y":{"field":"p","type":"quantitative","scale":{"type":"log","domain":[68560,133946]},"axis":null},"y2":{"field":"p2"},"color":{"field":"kind","type":"nominal","legend":null,"scale":{"domain":["last","blue","blue dotted","orange","olive","red"],"range":["#a8660f","#1f3d9c","#1f3d9c","#b56e0a","#8fa040","#b81c30"]}},"strokeDash":{"field":"kind","type":"nominal","legend":null,"scale":{"domain":["last","blue","blue dotted","orange","olive","red"],"range":[[1,3],[1,0],[1,1],[4,3],[4,3],[5,5]]}}}},
{"data":{"name":"candles"},"mark":{"type":"rule","strokeWidth":1},"encoding":{"y":{"field":"h","type":"quantitative","scale":{"type":"log","domain":[68560,133946]},"axis":null},"y2":{"field":"l"},"color":{"condition":{"test":"datum.c>=datum.o","value":"#8f8f8f"},"value":"#b0620f"}}},
{"data":{"name":"candles"},"mark":{"type":"bar","size":2},"encoding":{"y":{"field":"o","type":"quantitative","scale":{"type":"log","domain":[68560,133946]},"axis":null},"y2":{"field":"c"},"color":{"condition":{"test":"datum.c>=datum.o","value":"#ffffff"},"value":"#f57f17"}}},
{"data":{"name":"channel"},"mark":{"type":"rule","strokeWidth":1.4,"color":"#f2981f"},"encoding":{"x2":{"field":"d2"},"y":{"field":"p","type":"quantitative","scale":{"type":"log","domain":[68560,133946]},"axis":null},"y2":{"field":"p2"}}},
{"data":{"name":"labels"},"mark":{"type":"text","fontSize":5,"align":"center","baseline":"middle"},"encoding":{"y":{"field":"p","type":"quantitative","scale":{"type":"log","domain":[68560,133946]},"axis":null},"text":{"field":"label"},"color":{"field":"kind","type":"nominal","legend":null,"scale":{"domain":["orange","red","blue","olive"],"range":["#b36c00","#a81c2c","#1c3fa8","#8fa040"]}}}},
{"data":{"values":[{"d":"2025-03-21","p":110790,"label":"BOS"},{"d":"2025-09-09","p":125540,"label":"BOS"}]},"mark":{"type":"text","fontSize":6.5,"color":"#2448b8","align":"center","baseline":"middle"},"encoding":{"y":{"field":"p","type":"quantitative","scale":{"type":"log","domain":[68560,133946]},"axis":null},"text":{"field":"label"}}},
{"data":{"values":[{"d":"2026-01-31T12:00:00Z","d2":"2026-02-24","p":133330,"p2":129880}]},"mark":{"type":"rect","fill":"#141414","stroke":"#3a3a3a","cornerRadius":3},"encoding":{"x2":{"field":"d2"},"y":{"field":"p","type":"quantitative","scale":{"type":"log","domain":[68560,133946]},"axis":null},"y2":{"field":"p2"}}},
{"data":{"name":"header"},"mark":{"type":"text","fontSize":8.5,"align":"left","baseline":"middle"},"encoding":{"y":{"field":"p","type":"quantitative","scale":{"type":"log","domain":[68560,133946]},"axis":null},"text":{"field":"label"},"color":{"field":"kind","type":"nominal","legend":null,"scale":{"domain":["name","value"],"range":["#b4b4b4","#e0801a"]}}}},
{"data":{"name":"boxes"},"mark":{"type":"rect","fill":"#ff9800"},"encoding":{"x2":{"field":"d2"},"y":{"field":"p","type":"quantitative","scale":{"type":"log","domain":[68560,133946]},"axis":null},"y2":{"field":"p2"}}},
{"data":{"name":"tags"},"mark":{"type":"text","fontSize":9,"align":"left","baseline":"middle","color":"#4a3000"},"encoding":{"y":{"field":"p","type":"quantitative","scale":{"type":"log","domain":[68560,133946]},"axis":null},"text":{"field":"label"}}},
{"data":{"values":[{"d":"2025-11-08","p":71250,"event":"marker"}]},"mark":{"type":"point","shape":"diamond","filled":true,"size":35,"color":"#7e3fd0"},"encoding":{"y":{"field":"p","type":"quantitative","scale":{"type":"log","domain":[68560,133946]},"axis":null}}},
{"data":{"values":[{"d":"2025-11-12","p":71600,"event":"US"}]},"mark":{"type":"point","shape":"circle","filled":true,"size":190,"fill":"#ffffff","stroke":"#d0202c","strokeWidth":2,"opacity":1},"encoding":{"y":{"field":"p","type":"quantitative","scale":{"type":"log","domain":[68560,133946]},"axis":null}}},
{"data":{"values":[{"d":"2025-11-11","p":71850,"event":"US"}]},"mark":{"type":"point","shape":"square","filled":true,"size":18,"color":"#2f6fd8","opacity":1},"encoding":{"y":{"field":"p","type":"quantitative","scale":{"type":"log","domain":[68560,133946]},"axis":null}}},
{"data":{"values":[{"d":"2025-11-12","p":71250,"event":"US"}]},"mark":{"type":"point","shape":"M-1,-0.3H1V0.3H-1Z","filled":true,"size":120,"color":"#e0404a","opacity":1},"encoding":{"y":{"field":"p","type":"quantitative","scale":{"type":"log","domain":[68560,133946]},"axis":null}}},
{"data":{"values":[{"d":"2024-10-15","p":66410,"brand":"logo"}]},"mark":{"type":"point","shape":"M-1,-0.43H-0.18V0.43H-0.55V-0.05H-1Z M0.5,-0.43H1L0.58,0.43H0.1Z M-0.08,-0.25a0.14,0.14 0 1,0 0.28,0a0.14,0.14 0 1,0 -0.28,0Z","filled":true,"size":441,"color":"#d8d8d8","opacity":1},"encoding":{"y":{"field":"p","type":"quantitative","scale":{"type":"log","domain":[68560,133946]},"axis":null}}},
{"data":{"values":[{"d":"2024-10-22","p":66410,"label":"TradingView"}]},"mark":{"type":"text","fontSize":14.5,"fontWeight":500,"align":"left","baseline":"middle","color":"#d8d8d8"},"encoding":{"y":{"field":"p","type":"quantitative","scale":{"type":"log","domain":[68560,133946]},"axis":null},"text":{"field":"label"}}}
]}
